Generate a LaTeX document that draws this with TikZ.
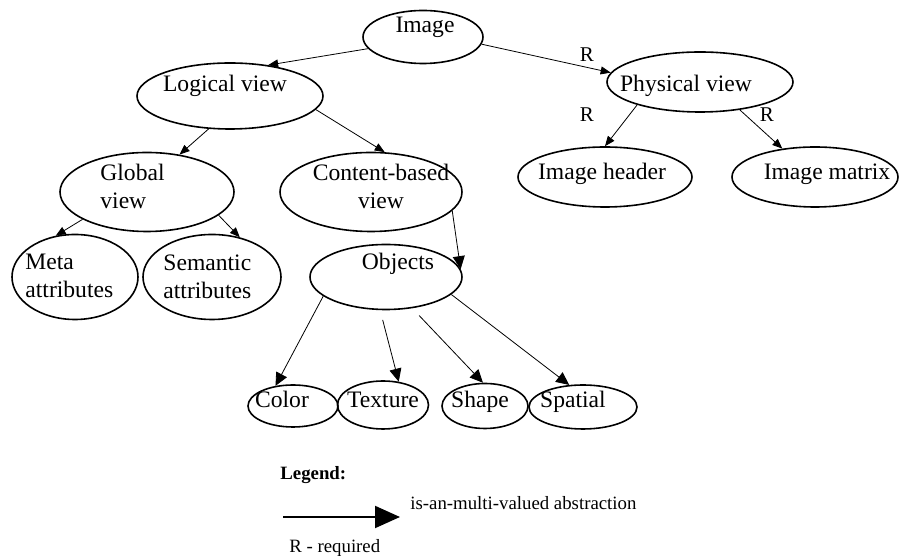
\documentclass[tikz,border=0pt]{standalone}
\usepackage{fontspec}
\setmainfont{Liberation Serif}
\usepackage{tikz}
\usetikzlibrary{shapes.geometric,arrows.meta,positioning}
\tikzset{
  >={Triangle[length=5pt,width=4pt]},
  oval/.style={ellipse, draw=black, line width=0.8pt, inner sep=0pt},
  word/.style={inner sep=0pt, font=\fontsize{11.8}{14}\selectfont},
  isa/.style={draw, thin, ->},
  isabig/.style={draw, thin, -{Triangle[length=6.5pt,width=6pt]}},
  req/.style={inner sep=0pt, anchor=base, font=\fontsize{10.5}{12}\selectfont},
  legendtxt/.style={inner sep=0pt, anchor=base west, font=\fontsize{9.4}{11}\selectfont}
}

\begin{document}
\begin{tikzpicture}[x=0.5pt,y=-0.5pt]
\useasboundingbox (0,0) rectangle (902,560);
% ellipses
\node[oval, minimum width=60pt, minimum height=26.5pt] (img) at (423,37) {};
\node[oval, minimum width=93pt, minimum height=33pt] (logic) at (230,96) {};
\node[oval, minimum width=93pt, minimum height=30pt] (phys) at (700,82) {};
\node[oval, minimum width=87pt, minimum height=39.5pt] (glob) at (147,192) {};
\node[oval, minimum width=91pt, minimum height=39.5pt] (cont) at (371,192) {};
\node[oval, minimum width=87pt, minimum height=30pt] (head) at (605,177) {};
\node[oval, minimum width=83pt, minimum height=30pt] (matr) at (815,177) {};
\node[oval, minimum width=63pt, minimum height=42.5pt] (meta) at (75,277) {};
\node[oval, minimum width=69pt, minimum height=42.5pt] (sem) at (212,277) {};
\node[oval, minimum width=76pt, minimum height=32.5pt] (obj) at (386,277) {};
\node[oval, minimum width=45pt, minimum height=21pt] (col) at (293,406) {};
\node[oval, minimum width=45.5pt, minimum height=24pt] (tex) at (383,405) {};
\node[oval, minimum width=43pt, minimum height=22.5pt] (shp) at (485,406) {};
\node[oval, minimum width=54pt, minimum height=22pt] (spa) at (583,407) {};
% texts
\node[word, anchor=base] (imgt) at (425,33) {Image};
\node[word, anchor=base] (logict) at (225,92) {Logical view};
\node[word, anchor=base] (physt) at (686,92) {Physical view};
\node[word, anchor=north west, align=left] (globt) at (100,164) {Global\\view};
\node[word, anchor=north, align=center] (contt) at (381,164) {Content-based\\view};
\node[word, anchor=base] (headt) at (602,180) {Image header};
\node[word, anchor=base] (matrt) at (827,180) {Image matrix};
\node[word, anchor=north west, align=left] (metat) at (25,254) {Meta\\attributes};
\node[word, anchor=north west, align=left] (semt) at (163,254) {Semantic\\attributes};
\node[word, anchor=base] (objt) at (398,270) {Objects};
\node[word, anchor=base] (colt) at (282,408) {Color};
\node[word, anchor=base] (text) at (383,408) {Texture};
\node[word, anchor=base] (shpt) at (480,408) {Shape};
\node[word, anchor=base] (spat) at (573,408) {Spatial};
% connectors
\draw[isa] (img.192) -- (logic.39);
\draw[isa] (img.353) -- (phys.174);
\draw[isa] (logic.237) -- (glob.49);
\draw[isa] (logic.351) -- (cont.71);
\draw[isa] (phys.200) -- (head.90);
\draw[isa] (phys.325) -- (matr.139);
\draw[isa] (glob.203) -- (meta.115);
\draw[isa] (glob.342) -- (sem.55);
\draw[isabig] (cont.347) -- (obj.6);
\draw[isabig] (obj.197) -- (col.131);
\draw[isabig, shorten <=5pt] (obj.260) -- (tex.56);
\draw[isabig, shorten <=5pt] (obj.310) -- (shp.95);
\draw[isabig] (obj.345) -- (spa.122);
\node[req] (r1) at (587,62) {R};
\node[req] (r2) at (587,122) {R};
\node[req] (r3) at (767,122) {R};
% legend
\node[legendtxt, font=\bfseries\fontsize{9.4}{11}\selectfont] (leg) at (280,480) {Legend:};
\coordinate (legA) at (283,517);
\coordinate (legB) at (400,517);
\draw[line width=1pt, -{Triangle[length=12.5pt,width=11pt]}] (legA) -- (legB);
\node[legendtxt] (legisa) at (410,510) {is-an-multi-valued abstraction};
\node[legendtxt] (legreq) at (289,553) {R - required};
\end{tikzpicture}
\end{document}
